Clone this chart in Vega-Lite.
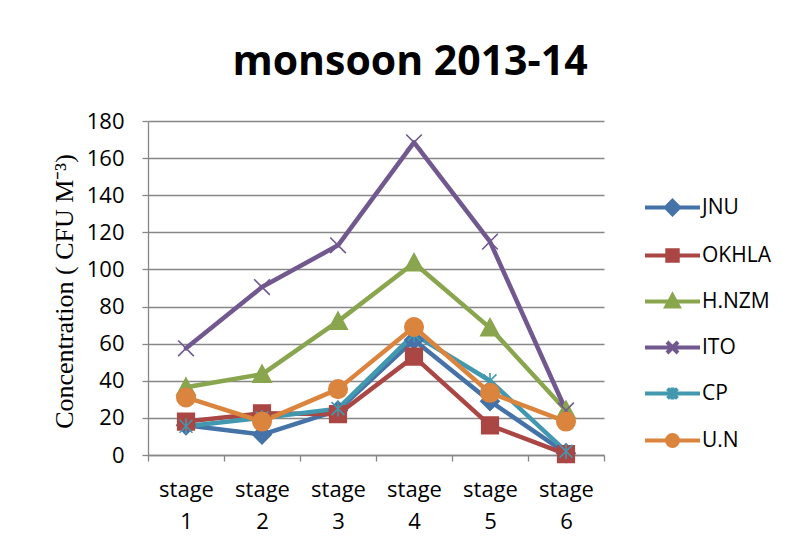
{
  "$schema": "https://vega.github.io/schema/vega-lite/v6.json",
  "autosize": "none",
  "width": 456,
  "height": 334,
  "padding": {"left": 148, "top": 121, "right": 190, "bottom": 95},
  "background": "white",
  "config": {"view": {"stroke": null}},
  "title": {
    "text": "monsoon 2013-14",
    "font": "Open Sans",
    "fontSize": 41,
    "fontWeight": "bold",
    "color": "black",
    "anchor": "middle",
    "frame": "group",
    "dx": 34,
    "baseline": "alphabetic",
    "offset": -6
  },
  "data": {
    "values": [
      {"stage": "stage 1", "site": "JNU", "value": 16},
      {"stage": "stage 2", "site": "JNU", "value": 11},
      {"stage": "stage 3", "site": "JNU", "value": 24},
      {"stage": "stage 4", "site": "JNU", "value": 62},
      {"stage": "stage 5", "site": "JNU", "value": 29},
      {"stage": "stage 6", "site": "JNU", "value": 1},
      {"stage": "stage 1", "site": "OKHLA", "value": 18},
      {"stage": "stage 2", "site": "OKHLA", "value": 22.5},
      {"stage": "stage 3", "site": "OKHLA", "value": 22},
      {"stage": "stage 4", "site": "OKHLA", "value": 53},
      {"stage": "stage 5", "site": "OKHLA", "value": 16},
      {"stage": "stage 6", "site": "OKHLA", "value": 0.5},
      {"stage": "stage 1", "site": "H.NZM", "value": 36.5},
      {"stage": "stage 2", "site": "H.NZM", "value": 43.5},
      {"stage": "stage 3", "site": "H.NZM", "value": 72},
      {"stage": "stage 4", "site": "H.NZM", "value": 103.5},
      {"stage": "stage 5", "site": "H.NZM", "value": 68.5},
      {"stage": "stage 6", "site": "H.NZM", "value": 24},
      {"stage": "stage 1", "site": "ITO", "value": 57.5},
      {"stage": "stage 2", "site": "ITO", "value": 90.5},
      {"stage": "stage 3", "site": "ITO", "value": 113},
      {"stage": "stage 4", "site": "ITO", "value": 168.5},
      {"stage": "stage 5", "site": "ITO", "value": 115},
      {"stage": "stage 6", "site": "ITO", "value": 24},
      {"stage": "stage 1", "site": "CP", "value": 15.5},
      {"stage": "stage 2", "site": "CP", "value": 20},
      {"stage": "stage 3", "site": "CP", "value": 25},
      {"stage": "stage 4", "site": "CP", "value": 65},
      {"stage": "stage 5", "site": "CP", "value": 40},
      {"stage": "stage 6", "site": "CP", "value": 2},
      {"stage": "stage 1", "site": "U.N", "value": 31},
      {"stage": "stage 2", "site": "U.N", "value": 18},
      {"stage": "stage 3", "site": "U.N", "value": 35.5},
      {"stage": "stage 4", "site": "U.N", "value": 69},
      {"stage": "stage 5", "site": "U.N", "value": 33.5},
      {"stage": "stage 6", "site": "U.N", "value": 18}
    ]
  },
  "encoding": {
    "x": {
      "field": "stage",
      "type": "ordinal",
      "scale": {"type": "band", "paddingInner": 0, "paddingOuter": 0},
      "axis": {
        "title": null,
        "labelAngle": 0,
        "labelExpr": "split(datum.label, ' ')",
        "labelFont": "Open Sans",
        "labelFontSize": 22,
        "labelColor": "black",
        "labelLineHeight": 32,
        "labelPadding": 18,
        "tickBand": "extent",
        "tickSize": 6,
        "tickColor": "#878787",
        "tickWidth": 1.3,
        "domainColor": "#878787",
        "domainWidth": 1.3,
        "grid": false
      }
    },
    "y": {
      "field": "value",
      "type": "quantitative",
      "scale": {"domain": [0, 180], "nice": false},
      "axis": {
        "values": [0, 20, 40, 60, 80, 100, 120, 140, 160, 180],
        "title": "Concentration ( CFU M⁻³)",
        "titleFont": "Liberation Serif",
        "titleFontSize": 26,
        "titleFontWeight": "normal",
        "titleColor": "black",
        "titleAngle": -90,
        "titleBaseline": "middle",
        "titleX": -84,
        "titleY": 170,
        "labelFont": "Open Sans",
        "labelFontSize": 22,
        "labelColor": "black",
        "labelPadding": 18,
        "tickSize": 6,
        "tickColor": "#878787",
        "tickWidth": 1.3,
        "domainColor": "#878787",
        "domainWidth": 1.3,
        "grid": true,
        "gridColor": "#878787",
        "gridWidth": 1.3
      }
    }
  },
  "layer": [
    {
      "mark": {"type": "line", "strokeWidth": 4.5, "strokeJoin": "round", "strokeCap": "round"},
      "encoding": {
        "color": {
          "field": "site",
          "type": "nominal",
          "scale": {
            "domain": ["JNU", "OKHLA", "H.NZM", "ITO", "CP", "U.N"],
            "range": ["#4572A7", "#AA4643", "#89A54E", "#71588F", "#4198AF", "#DB843D"]
          },
          "legend": null
        }
      }
    },
    {
      "mark": {"type": "point", "filled": true, "opacity": 1, "size": 340, "strokeWidth": 1.6},
      "encoding": {
        "color": {
          "field": "site",
          "type": "nominal",
          "scale": {
            "domain": ["JNU", "OKHLA", "H.NZM", "ITO", "CP", "U.N"],
            "range": ["#4572A7", "#AA4643", "#89A54E", "#71588F", "#4198AF", "#DB843D"]
          },
          "legend": null
        },
        "stroke": {
          "field": "site",
          "type": "nominal",
          "scale": {
            "domain": ["JNU", "OKHLA", "H.NZM", "ITO", "CP", "U.N"],
            "range": ["#4572A7", "#AA4643", "#89A54E", "#71588F", "#4198AF", "#DB843D"]
          },
          "legend": null
        },
        "shape": {
          "field": "site",
          "type": "nominal",
          "scale": {
            "domain": ["JNU", "OKHLA", "H.NZM", "ITO", "CP", "U.N"],
            "range": [
              "M0,-1L1,0L0,1L-1,0Z",
              "M-0.9,-0.9H0.9V0.9H-0.9Z",
              "M0,-1L1,0.85H-1Z",
              "M-0.85,-0.85L0.85,0.85M-0.85,0.85L0.85,-0.85",
              "M-0.7,-0.7L0.7,0.7M-0.7,0.7L0.7,-0.7M0,-0.85V0.85",
              "M-1,0A1,1 0 1,0 1,0A1,1 0 1,0 -1,0Z"
            ]
          },
          "legend": null
        }
      }
    },
    {
      "transform": [{"filter": "datum.value < 0"}],
      "mark": {"type": "point", "filled": true, "opacity": 1},
      "encoding": {
        "color": {
          "field": "site",
          "type": "nominal",
          "scale": {
            "domain": ["JNU", "OKHLA", "H.NZM", "ITO", "CP", "U.N"],
            "range": ["#4572A7", "#AA4643", "#89A54E", "#71588F", "#4198AF", "#DB843D"]
          },
          "legend": {
            "title": null,
            "orient": "none",
            "legendX": 495,
            "legendY": 57,
            "symbolSize": 3025,
            "symbolStrokeWidth": 4,
            "labelFont": "Open Sans",
            "labelFontSize": 21,
            "labelColor": "black",
            "labelOffset": 0,
            "rowPadding": 3
          }
        },
        "stroke": {
          "field": "site",
          "type": "nominal",
          "scale": {
            "domain": ["JNU", "OKHLA", "H.NZM", "ITO", "CP", "U.N"],
            "range": ["#4572A7", "#AA4643", "#89A54E", "#71588F", "#4198AF", "#DB843D"]
          },
          "legend": {
            "title": null,
            "orient": "none",
            "legendX": 495,
            "legendY": 57,
            "symbolSize": 3025,
            "symbolStrokeWidth": 4,
            "labelFont": "Open Sans",
            "labelFontSize": 21,
            "labelColor": "black",
            "labelOffset": 0,
            "rowPadding": 3
          }
        },
        "shape": {
          "field": "site",
          "type": "nominal",
          "scale": {
            "domain": ["JNU", "OKHLA", "H.NZM", "ITO", "CP", "U.N"],
            "range": [
              "M-1,0H1M0,-0.24L0.24,0L0,0.24L-0.24,0Z",
              "M-1,0H1M-0.19,-0.19H0.19V0.19H-0.19Z",
              "M-1,0H1M0,-0.22L0.22,0.18H-0.22Z",
              "M-1,0H1M-0.2,-0.2L0.2,0.2M-0.2,0.2L0.2,-0.2",
              "M-1,0H1M-0.18,-0.18L0.18,0.18M-0.18,0.18L0.18,-0.18M0,-0.22V0.22",
              "M-1,0H1M-0.2,0A0.2,0.2 0 1,0 0.2,0A0.2,0.2 0 1,0 -0.2,0Z"
            ]
          },
          "legend": {
            "title": null,
            "orient": "none",
            "legendX": 495,
            "legendY": 57,
            "symbolSize": 3025,
            "symbolStrokeWidth": 4,
            "labelFont": "Open Sans",
            "labelFontSize": 21,
            "labelColor": "black",
            "labelOffset": 0,
            "rowPadding": 3
          }
        }
      }
    }
  ],
  "resolve": {
    "scale": {"shape": "independent", "color": "independent", "stroke": "independent"},
    "legend": {"shape": "independent", "color": "independent", "stroke": "independent"}
  }
}
